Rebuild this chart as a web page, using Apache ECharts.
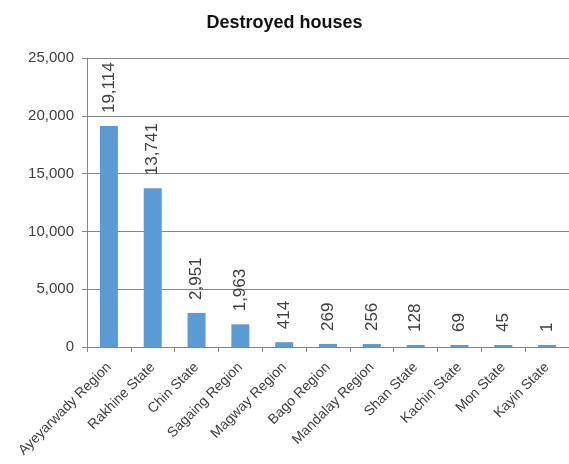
<!DOCTYPE html>
<html><head><meta charset="utf-8">
<script src="https://cdn.jsdelivr.net/npm/echarts@6/dist/echarts.min.js"></script>
<style>html,body{margin:0;padding:0;background:#fff}#c{width:569px;height:464px}</style>
</head><body><div id="c"></div>
<script>
const categories = ["Ayeyarwady Region","Rakhine State","Chin State","Sagaing Region","Magway Region","Bago Region","Mandalay Region","Shan State","Kachin State","Mon State","Kayin State"];
const values = [19114,13741,2951,1963,414,269,256,128,69,45,1];
const yTicks = {min:0, max:25000, interval:5000};
const titleText = "Destroyed houses";

const chart = echarts.init(document.getElementById('c'));
const font = "'Liberation Sans', Arial, sans-serif";
chart.setOption({
  animation:false,
  title:{text:titleText, left:'center', top:9, textStyle:{fontFamily:font, fontSize:18, fontWeight:'bold', color:'#111'}},
  grid:{left:87, right:-2, top:58, bottom:117},
  xAxis:{type:'category', data:categories,
    axisLine:{lineStyle:{color:'#868686'}},
    axisTick:{show:true, length:5, lineStyle:{color:'#868686'}},
    axisLabel:{rotate:45, interval:0, fontFamily:font, fontSize:14, color:'#404040', margin:18}},
  yAxis:{type:'value', min:yTicks.min, max:yTicks.max, interval:yTicks.interval,
    axisLine:{show:true, lineStyle:{color:'#868686'}},
    axisTick:{show:true, length:5, lineStyle:{color:'#868686'}},
    splitLine:{lineStyle:{color:'#868686'}},
    axisLabel:{fontFamily:font, fontSize:15, color:'#404040', margin:13,
      formatter:v=>v.toLocaleString('en-US')}},
  series:[{type:'bar', data:values, barWidth:18, barMinHeight:2,
    itemStyle:{color:'#5B9BD5'},
    label:{show:true, position:'top', rotate:90, align:'left', verticalAlign:'middle', distance:13,
      fontFamily:font, fontSize:17, color:'#404040',
      formatter:p=>p.value.toLocaleString('en-US')}}]
});
</script></body></html>
